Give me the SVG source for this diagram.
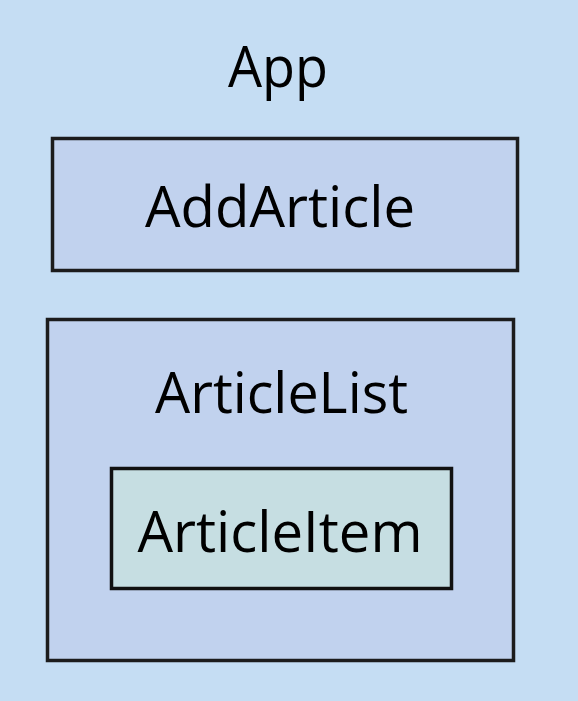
<svg xmlns="http://www.w3.org/2000/svg" width="578" height="701" viewBox="0 0 578 701">
  <style>
    .box { fill: #c1d2ee; stroke: #1c1c1c; stroke-width: 3.5; }
    .item { fill: #c6dee2; stroke: #111; stroke-width: 3.5; }
    .lbl { font-family: "Open Sans", "Noto Sans", sans-serif; font-size: 57px; fill: #000; text-anchor: middle; }
  </style>
  <rect x="0" y="0" width="578" height="701" fill="#c5ddf3"/>
  <g id="App">
    <text class="lbl" x="278" y="87" textLength="100" lengthAdjust="spacingAndGlyphs">App</text>
  </g>
  <g id="AddArticle">
    <rect class="box" x="52.5" y="138.5" width="465" height="132"/>
    <text class="lbl" x="280" y="227" textLength="270" lengthAdjust="spacingAndGlyphs">AddArticle</text>
  </g>
  <g id="ArticleList">
    <rect class="box" x="47.5" y="319.5" width="466" height="341"/>
    <text class="lbl" x="281.5" y="413" textLength="253" lengthAdjust="spacingAndGlyphs">ArticleList</text>
  </g>
  <g id="ArticleItem">
    <rect class="item" x="111.5" y="468.5" width="340" height="120"/>
    <text class="lbl" x="280" y="552" textLength="285" lengthAdjust="spacingAndGlyphs">ArticleItem</text>
  </g>
  <g id="connectors"/>
</svg>
